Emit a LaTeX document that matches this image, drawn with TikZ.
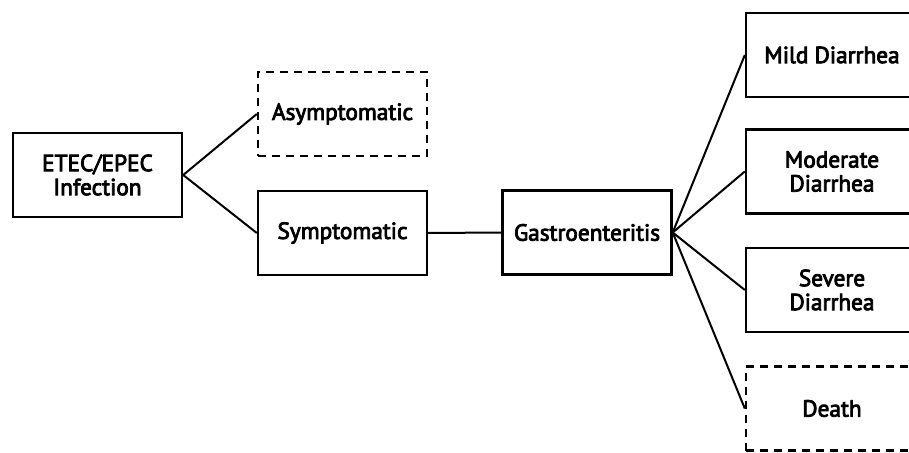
\documentclass[tikz,border=0pt]{standalone}
\usepackage{fontspec}
\setmainfont[FakeBold=3.5]{PT Sans}
\begin{document}
\begin{tikzpicture}[x=1pt,y=-1pt,
  box/.style={draw, line width=2.4pt, minimum width=169pt, minimum height=84pt, align=center, font=\fontsize{23.3}{24}\selectfont, inner sep=0pt},
  dbox/.style={box, dashed, dash pattern=on 8pt off 6pt},
  conn/.style={line width=2pt}]
\useasboundingbox (0,0) rectangle (909,452);
\clip (0,0) rectangle (909,452);
\node[box] (etec) at (97.5,175) {ETEC/EPEC\\Infection};
\node[dbox] (asym) at (342.5,114) {Asymptomatic};
\node[box] (sym) at (342.5,233) {Symptomatic};
\node[box] (gas) at (587,232.5) {Gastroenteritis};
\node[box, minimum width=172pt] (mild) at (832,55) {Mild Diarrhea};
\node[box, minimum width=172pt] (mod) at (832,171.5) {Moderate\\Diarrhea};
\node[box, minimum width=172pt] (sev) at (832,290) {Severe\\Diarrhea};
\node[dbox, minimum width=172pt] (death) at (832,408.5) {Death};
\draw[conn] (etec.east) -- (asym.west);
\draw[conn] (etec.east) -- (sym.west);
\draw[conn] (sym.east) -- (gas.west);
\draw[conn] (gas.east) -- (mild.west);
\draw[conn] (gas.east) -- (mod.west);
\draw[conn] (gas.east) -- (sev.west);
\draw[conn] (gas.east) -- (death.west);
\end{tikzpicture}
\end{document}
